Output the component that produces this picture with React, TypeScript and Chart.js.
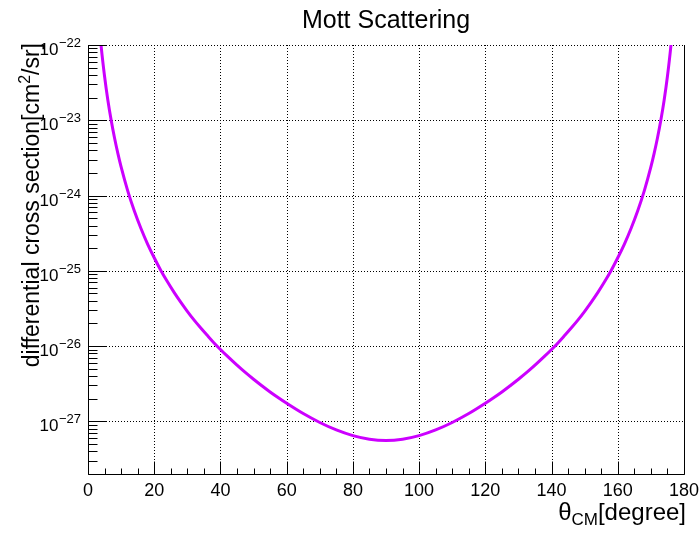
import React, { useEffect, useRef } from "react";
import { Chart, registerables } from "chart.js";

Chart.register(...registerables);

// Scattering angle in the centre-of-mass frame [degree]
const thetaDeg = [
  3, 4, 5, 6, 7, 8, 9, 10, 12, 14, 16, 18, 20, 22, 24, 26, 28, 30, 32, 34, 36, 38, 40, 42, 45, 47.5, 50, 52.5,
  55, 57.5, 60, 65, 70, 75, 80, 85,
  90,
  95, 100, 105, 110, 115, 120, 122.5, 125, 127.5, 130, 132.5, 135, 138, 140, 142, 144, 146, 148, 150, 152, 154,
  156, 158, 160, 162, 164, 166, 168, 170, 171, 172, 173, 174, 175, 176, 177,
];

// Differential cross section [cm^2/sr]
const sigma = [
  2.97e-22, 9.39e-23, 3.85e-23, 1.85e-23, 1.0e-23, 5.86e-24, 3.66e-24, 2.4e-24, 1.156e-24, 6.23e-25, 3.65e-25,
  2.27e-25, 1.49e-25, 1.01e-25, 7.14e-26, 5.17e-26, 3.84e-26, 2.9e-26, 2.23e-26, 1.75e-26, 1.39e-26, 1.11e-26,
  9.02e-27, 7.4e-27, 5.58e-27, 4.47e-27, 3.63e-27, 2.98e-27, 2.46e-27, 2.06e-27, 1.74e-27, 1.27e-27, 9.67e-28,
  7.7e-28, 6.47e-28, 5.8e-28,
  5.58e-28,
  5.8e-28, 6.47e-28, 7.7e-28, 9.67e-28, 1.27e-27, 1.74e-27, 2.06e-27, 2.46e-27, 2.98e-27, 3.63e-27, 4.47e-27,
  5.58e-27, 7.4e-27, 9.02e-27, 1.11e-26, 1.39e-26, 1.75e-26, 2.23e-26, 2.9e-26, 3.84e-26, 5.17e-26, 7.14e-26,
  1.01e-25, 1.49e-25, 2.27e-25, 3.65e-25, 6.23e-25, 1.156e-24, 2.4e-24, 3.66e-24, 5.86e-24, 1.0e-23, 1.85e-23,
  3.85e-23, 9.39e-23, 2.97e-22,
];

const xTickLabels = [0, 20, 40, 60, 80, 100, 120, 140, 160, 180];
const xMinorStep = 5;
const yDecades = [-27, -26, -25, -24, -23, -22];
const yMin = 2e-28;
const yMax = 1e-22;

const TITLE = "Mott Scattering";
const X_TITLE_MAIN = "θ";
const X_TITLE_SUB = "CM";
const X_TITLE_REST = "[degree]";
const Y_TITLE_A = "differential cross section[cm";
const Y_TITLE_SUP = "2";
const Y_TITLE_B = "/sr]";

const FONT = '"Liberation Sans", Arial, Helvetica, sans-serif';

const rootStyle = {
  id: "rootStyle",
  beforeDatasetsDraw(chart: any) {
    const { ctx, chartArea: a, scales } = chart;
    const x = scales.x;
    const y = scales.y;
    ctx.save();
    ctx.strokeStyle = "#000";
    ctx.lineWidth = 1;
    ctx.setLineDash([1, 2]);
    ctx.beginPath();
    for (const t of xTickLabels) {
      if (t <= 0 || t >= 180) continue;
      const px = Math.round(x.getPixelForValue(t)) + 0.5;
      ctx.moveTo(px, a.top);
      ctx.lineTo(px, a.bottom);
    }
    for (const d of yDecades) {
      const py = Math.round(y.getPixelForValue(Math.pow(10, d))) + 0.5;
      ctx.moveTo(a.left, py);
      ctx.lineTo(a.right, py);
    }
    ctx.stroke();
    ctx.restore();
  },
  afterDatasetsDraw(chart: any) {
    const { ctx, chartArea: a, scales } = chart;
    const x = scales.x;
    const y = scales.y;
    ctx.save();
    ctx.setLineDash([]);
    ctx.strokeStyle = "#000";
    ctx.lineWidth = 1;
    const L = Math.round(a.left) + 0.5;
    const B = Math.round(a.bottom) + 0.5;
    const R = Math.round(a.right) + 0.5;
    const T = Math.round(a.top);
    ctx.beginPath();
    // frame: left, bottom, right
    ctx.moveTo(L, T);
    ctx.lineTo(L, B);
    ctx.lineTo(R, B);
    ctx.lineTo(R, T);
    // x ticks
    for (let t = 0; t <= 180; t += xMinorStep) {
      const px = Math.round(x.getPixelForValue(t)) + 0.5;
      const len = t % 20 === 0 ? 13 : 6;
      ctx.moveTo(px, B);
      ctx.lineTo(px, B - len);
    }
    // y ticks (log)
    for (let d = -28; d <= -22; d++) {
      for (let k = 1; k <= 9; k++) {
        const v = k * Math.pow(10, d);
        if (v < yMin * 0.999 || v > yMax * 1.001) continue;
        const py = Math.round(y.getPixelForValue(v)) + 0.5;
        const len = k === 1 ? 18 : 9;
        ctx.moveTo(L, py);
        ctx.lineTo(L + len, py);
      }
    }
    ctx.stroke();

    ctx.fillStyle = "#000";
    // x tick labels
    ctx.font = `18px ${FONT}`;
    ctx.textAlign = "center";
    ctx.textBaseline = "alphabetic";
    for (const t of xTickLabels) {
      ctx.fillText(String(t), x.getPixelForValue(t), B + 21);
    }
    // y tick labels 10^d
    for (const d of yDecades) {
      const py = y.getPixelForValue(Math.pow(10, d));
      const sup = "\u2212" + String(-d);
      ctx.font = `13px ${FONT}`;
      const ws = ctx.measureText(sup).width;
      ctx.textAlign = "left";
      const supX = a.left - 7 - ws;
      ctx.fillText(sup, supX, py + 2);
      ctx.font = `17px ${FONT}`;
      ctx.textAlign = "right";
      ctx.fillText("10", supX - 0.5, py + 10);
    }

    // main title
    ctx.font = `25px ${FONT}`;
    ctx.textAlign = "center";
    ctx.fillText(TITLE, (a.left + a.right) / 2, 28);

    // x title (right aligned)
    ctx.textAlign = "left";
    ctx.font = `24px ${FONT}`;
    const wRest = ctx.measureText(X_TITLE_REST).width;
    const wMain = ctx.measureText(X_TITLE_MAIN).width;
    ctx.font = `17px ${FONT}`;
    const wSub = ctx.measureText(X_TITLE_SUB).width;
    const xEnd = 686;
    const x0 = xEnd - wRest - wSub - wMain;
    ctx.font = `24px ${FONT}`;
    ctx.fillText(X_TITLE_MAIN, x0, 520);
    ctx.font = `17px ${FONT}`;
    ctx.fillText(X_TITLE_SUB, x0 + wMain, 525);
    ctx.font = `24px ${FONT}`;
    ctx.fillText(X_TITLE_REST, x0 + wMain + wSub, 520);

    // y title (rotated, right aligned to top)
    ctx.translate(39, 43);
    ctx.rotate(-Math.PI / 2);
    ctx.font = `23px ${FONT}`;
    const wA = ctx.measureText(Y_TITLE_A).width;
    const wB = ctx.measureText(Y_TITLE_B).width;
    ctx.font = `16px ${FONT}`;
    const wS = ctx.measureText(Y_TITLE_SUP).width;
    const y0 = -(wA + wS + wB);
    ctx.font = `23px ${FONT}`;
    ctx.fillText(Y_TITLE_A, y0, 0);
    ctx.font = `16px ${FONT}`;
    ctx.fillText(Y_TITLE_SUP, y0 + wA, -9);
    ctx.font = `23px ${FONT}`;
    ctx.fillText(Y_TITLE_B, y0 + wA + wS, 0);
    ctx.restore();
  },
};

export default function App() {
  const canvasRef = useRef<HTMLCanvasElement | null>(null);

  useEffect(() => {
    const canvas = canvasRef.current;
    if (!canvas) return;
    const chart = new Chart(canvas, {
      type: "scatter",
      data: {
        datasets: [
          {
            label: "Mott",
            data: thetaDeg.map((t, i) => ({ x: t, y: sigma[i] })),
            showLine: true,
            borderColor: "#cc00ff",
            backgroundColor: "#cc00ff",
            borderWidth: 3,
            pointRadius: 0,
            pointHoverRadius: 0,
            cubicInterpolationMode: "monotone",
            fill: false,
            clip: 0,
          } as any,
        ],
      },
      options: {
        responsive: false,
        maintainAspectRatio: false,
        animation: false,
        events: [],
        layout: { padding: { left: 88, right: 16, top: 45, bottom: 60 } },
        plugins: {
          legend: { display: false },
          tooltip: { enabled: false },
          title: { display: false },
        },
        scales: {
          x: { type: "linear", min: 0, max: 180, display: false },
          y: { type: "logarithmic", min: yMin, max: yMax, display: false },
        },
      },
      plugins: [rootStyle],
    });
    return () => chart.destroy();
  }, []);

  return (
    <div style={{ position: "fixed", left: 0, top: 0, width: 700, height: 534, background: "#fff" }}>
      <canvas ref={canvasRef} width={700} height={534} style={{ display: "block" }} />
    </div>
  );
}
